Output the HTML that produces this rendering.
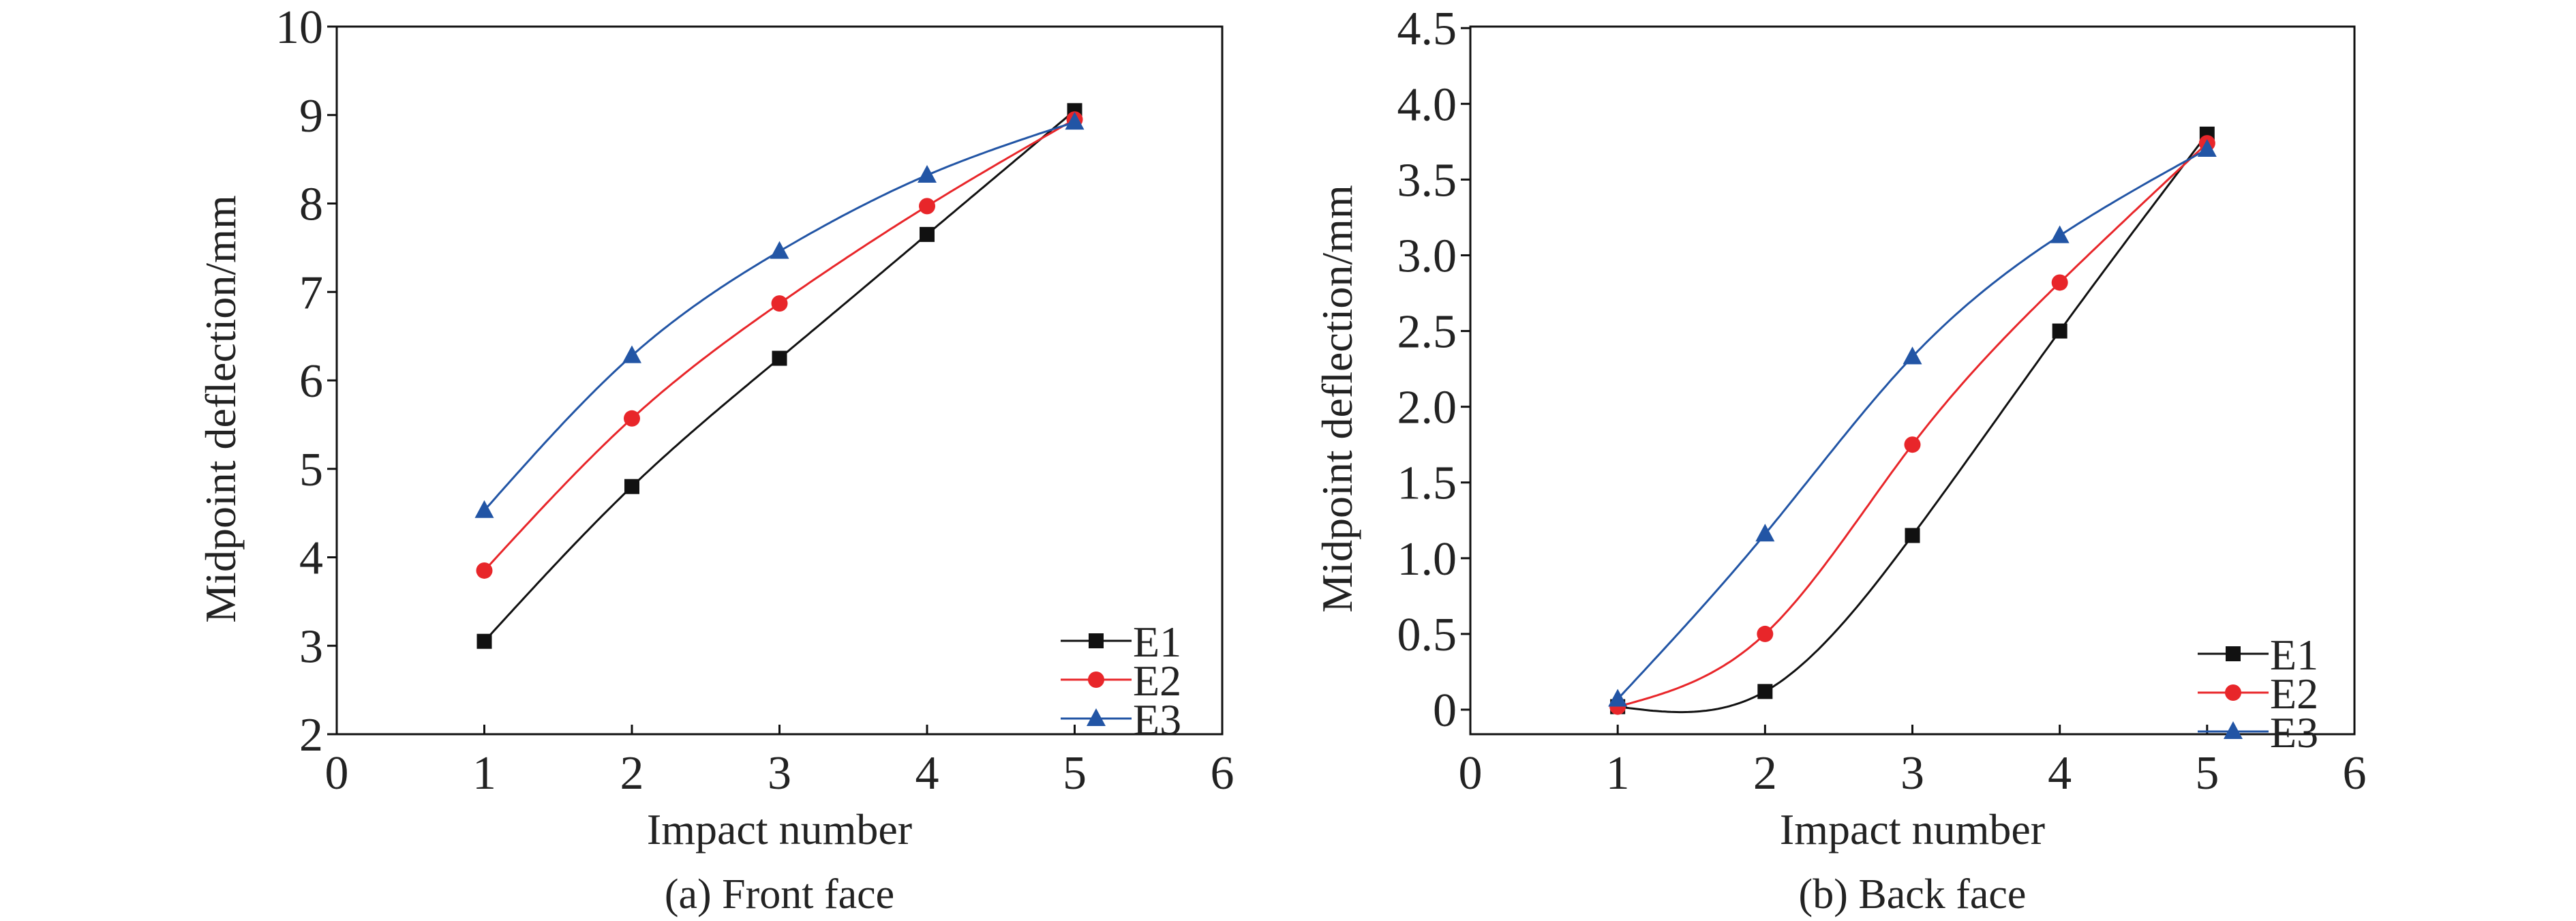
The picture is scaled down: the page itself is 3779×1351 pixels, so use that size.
<!DOCTYPE html>
<html><head><meta charset="utf-8"><style>
html,body{margin:0;padding:0;background:#fff;width:3779px;height:1351px;overflow:hidden}
text{font-family:"Liberation Serif",serif;fill:#222}
</style></head><body>
<svg id="svg" width="3779" height="1351" xmlns="http://www.w3.org/2000/svg"></svg>
<script>
const xTicks=[0,1,2,3,4,5,6];
const impacts=[1,2,3,4,5];
const seriesNames=["E1","E2","E3"];
const frontE1=[3.05,4.8,6.25,7.65,9.05];
const frontE2=[3.85,5.57,6.87,7.97,8.95];
const frontE3=[4.53,6.28,7.46,8.32,8.92];
const backE1=[0.02,0.12,1.15,2.5,3.8];
const backE2=[0.02,0.5,1.75,2.82,3.74];
const backE3=[0.07,1.16,2.33,3.13,3.7];
const frontYTicks=[2,3,4,5,6,7,8,9,10];
const backYTicks=[0,0.5,1.0,1.5,2.0,2.5,3.0,3.5,4.0,4.5];
const backYLabels=["0","0.5","1.0","1.5","2.0","2.5","3.0","3.5","4.0","4.5"];

const NS="http://www.w3.org/2000/svg";
const svg=document.getElementById('svg');
const colors=["#111","#e8262a","#2255a5"];
function mk(tag,attrs,parent){const e=document.createElementNS(NS,tag);for(const k in attrs)e.setAttribute(k,attrs[k]);(parent||svg).appendChild(e);return e;}
function spline(xs,ys){const n=xs.length,h=[],a=[],l=[1],mu=[0],z=[0],c=new Array(n).fill(0),b=[],d=[];
for(let i=0;i<n-1;i++)h.push(xs[i+1]-xs[i]);
for(let i=1;i<n-1;i++)a[i]=3/h[i]*(ys[i+1]-ys[i])-3/h[i-1]*(ys[i]-ys[i-1]);
for(let i=1;i<n-1;i++){l[i]=2*(xs[i+1]-xs[i-1])-h[i-1]*mu[i-1];mu[i]=h[i]/l[i];z[i]=(a[i]-h[i-1]*z[i-1])/l[i];}
for(let j=n-2;j>=0;j--){c[j]=(j>0?z[j]:0)-mu[j]*c[j+1];if(j==0)c[0]=0;b[j]=(ys[j+1]-ys[j])/h[j]-h[j]*(c[j+1]+2*c[j])/3;d[j]=(c[j+1]-c[j])/(3*h[j]);}
return t=>{let i=Math.min(n-2,Math.max(0,Math.floor(t-xs[0])));const dx=t-xs[i];return ys[i]+b[i]*dx+c[i]*dx*dx+d[i]*dx*dx*dx;};}

function panel(o){
 const g=mk('g',{});
 
 
 const X=v=>o.L+(v-0)/6*(o.R-o.L);
 const Y=v=>o.B-(v-o.ymin)/(o.ymax-o.ymin)*(o.B-o.T);
 const fr=mk('rect',{x:o.L,y:o.T,width:o.R-o.L,height:o.B-o.T,fill:'none',stroke:'#111','stroke-width':3},g);
 
 xTicks.forEach(v=>{mk('line',{x1:X(v),x2:X(v),y1:o.B,y2:o.B-14,stroke:'#111','stroke-width':3},g);
  const t=mk('text',{x:X(v),y:o.B+80,'font-size':70,'text-anchor':'middle'},g);t.textContent=v;
  });
 o.yt.forEach((v,i)=>{mk('line',{x1:o.L,x2:o.L-14,y1:Y(v),y2:Y(v),stroke:'#111','stroke-width':3},g);
  const t=mk('text',{x:o.L-20,y:Y(v)+24,'font-size':70,'text-anchor':'end'},g);t.textContent=o.yl[i];
  });
 const xt=mk('text',{x:(o.L+o.R)/2,y:1238,'font-size':64,'text-anchor':'middle'},g);xt.textContent='Impact number';
 
 const cy=o.ycy;
 const yt=mk('text',{x:o.yx,y:cy,'font-size':64,'text-anchor':'middle',transform:`rotate(-90 ${o.yx} ${cy})`},g);yt.textContent='Midpoint deflection/mm';
 
 const cap=mk('text',{x:(o.L+o.R)/2,y:1332,'font-size':62,'text-anchor':'middle'},g);cap.textContent=o.cap;
 
 function marker(k,x,y,par){let m;
  if(k==0)m=mk('rect',{x:x-11,y:y-11,width:22,height:22,fill:colors[0]},par);
  else if(k==1)m=mk('circle',{cx:x,cy:y,r:12,fill:colors[1]},par);
  else m=mk('polygon',{points:`${x},${y-15} ${x-14},${y+11} ${x+14},${y+11}`,fill:colors[2]},par);
  return m;}
 o.series.forEach((ys,k)=>{
  const f=spline(impacts,ys);let d='';
  for(let t=impacts[0];t<=impacts[impacts.length-1]+1e-9;t+=0.02)d+=(d?'L':'M')+X(t).toFixed(1)+','+Y(f(t)).toFixed(1);
  const p=mk('path',{d:d,fill:'none',stroke:colors[k],'stroke-width':3},g);
  
  impacts.forEach((v,i)=>{const m=marker(k,X(v),Y(ys[i]),g);
   });
  const ly=o.leg[1]+k*57;
  const lg=mk('g',{},g);
  mk('line',{x1:o.leg[0],x2:o.leg[0]+104,y1:ly,y2:ly,stroke:colors[k],'stroke-width':3},lg);
  marker(k,o.leg[0]+52,ly,lg);
  const lt=mk('text',{x:o.leg[0]+106,y:ly+23,'font-size':64},lg);lt.textContent=seriesNames[k];
 });
}
panel({name:'front-face-chart',L:494,R:1793,T:39,B:1077,ymin:2,ymax:10,yt:frontYTicks,yl:frontYTicks.map(String),yx:345,ycy:600,cap:'(a) Front face',series:[frontE1,frontE2,frontE3],leg:[1556,940]});
panel({name:'back-face-chart',L:2157,R:3454,T:39,B:1077,ymin:-0.162,ymax:4.51,yt:backYTicks,yl:backYLabels,yx:1983,ycy:585,cap:'(b) Back face',series:[backE1,backE2,backE3],leg:[3224,959]});
</script>
</body></html>
